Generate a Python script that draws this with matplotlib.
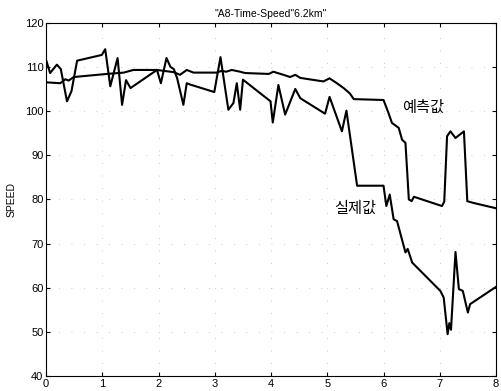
import numpy as np
import matplotlib
matplotlib.use('Agg')
from matplotlib import pyplot as plt

plt.rcParams['font.family'] = ['Liberation Sans', 'Noto Sans CJK KR', 'DejaVu Sans']

# 실제값 (jagged line)
x_real = [0.0, 0.07, 0.19, 0.26, 0.37, 0.45, 0.55, 0.99, 1.05, 1.14, 1.27, 1.35, 1.42, 1.5,
          1.97, 2.04, 2.14, 2.21, 2.27, 2.33, 2.44, 2.5, 2.56, 2.99, 3.1, 3.24, 3.33, 3.39,
          3.45, 3.5, 3.99, 4.03, 4.13, 4.25, 4.43, 4.52, 4.96, 5.04, 5.26, 5.34, 5.53, 6.0,
          6.05, 6.11, 6.18, 6.24, 6.39, 6.43, 6.51, 7.01, 7.07, 7.14, 7.17, 7.2, 7.28,
          7.34, 7.41, 7.5, 7.54, 8.0]
y_real = [111.5, 108.6, 110.5, 109.5, 102.2, 104.5, 111.4, 112.7, 114.0, 105.6, 112.0, 101.4,
          107.0, 105.2, 109.3, 106.3, 112.0, 110.0, 109.5, 107.4, 101.4, 106.3, 106.0, 104.3,
          112.2, 100.3, 101.8, 106.3, 100.3, 107.1, 102.2, 97.4, 105.9, 99.2, 105.0, 102.9,
          99.4, 103.2, 95.4, 100.1, 83.1, 83.1, 78.5, 81.1, 75.5, 75.1, 68.0, 68.8, 65.7,
          59.3, 57.8, 49.5, 52.0, 50.5, 68.1, 59.7, 59.3, 54.4, 56.3, 60.2]

# 예측값 (smooth line)
x_pred = [0.0, 0.25, 0.34, 0.4, 0.49, 1.08, 1.38, 1.55, 1.97, 2.27, 2.38, 2.5, 2.62, 3.03,
          3.12, 3.2, 3.3, 3.45, 3.54, 3.96, 4.04, 4.22, 4.34, 4.43, 4.52, 4.93, 5.04, 5.17,
          5.29, 5.4, 5.47, 6.0, 6.09, 6.15, 6.27, 6.33, 6.39, 6.45, 6.5, 6.54, 7.04, 7.08,
          7.13, 7.19, 7.28, 7.35, 7.43, 7.49, 7.6, 8.0]
y_pred = [106.5, 106.3, 107.2, 106.9, 107.7, 108.4, 108.7, 109.3, 109.3, 108.8, 108.2,
          109.3, 108.7, 108.7, 109.1, 108.9, 109.3, 108.9, 108.6, 108.4, 108.9, 108.2,
          107.7, 108.2, 107.5, 106.7, 107.4, 106.3, 105.2, 104.0, 102.7, 102.5, 99.5, 97.3,
          96.2, 93.5, 92.8, 80.0, 79.6, 80.6, 78.5, 79.5, 94.3, 95.4, 93.9, 94.6, 95.4,
          79.6, 79.2, 78.0]

fig = plt.figure(figsize=(5.02, 3.91), dpi=100)
ax = fig.add_axes([0.092, 0.038, 0.896, 0.904])
ax.plot(x_pred, y_pred, color='black', linewidth=1.5)
ax.plot(x_real, y_real, color='black', linewidth=1.5)

ax.set_xlim(0, 8)
ax.set_ylim(40, 120)
ax.set_xticks(range(0, 9))
ax.set_yticks(range(40, 121, 10))
ax.tick_params(direction='in', length=3, top=True, right=True, labelsize=8, pad=2)
ax.grid(True, color='#bbbbbb', linestyle=(0, (1, 14)), linewidth=0.6)
ax.set_axisbelow(True)
ax.set_title('"A8-Time-Speed"6.2km"', fontsize=7.5, pad=4)
ax.set_ylabel('SPEED', fontsize=7.5, labelpad=6)

ax.text(6.71, 100.9, '예측값', fontsize=11, ha='center', va='center',
        family=['Noto Sans CJK KR', 'DejaVu Sans'])
ax.text(5.5, 77.9, '실제값', fontsize=11, ha='center', va='center',
        family=['Noto Sans CJK KR', 'DejaVu Sans'])

for s in ax.spines.values():
    s.set_linewidth(0.8)

fig.savefig('out.png', dpi=100)
